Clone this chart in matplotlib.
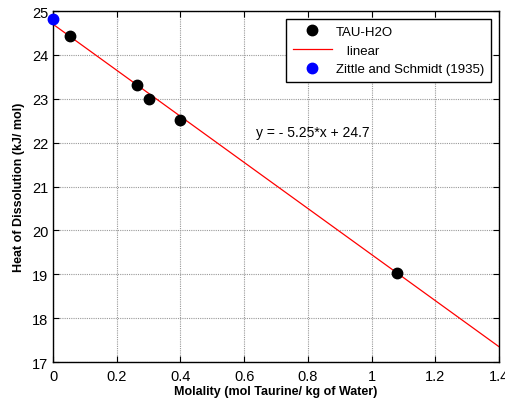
import matplotlib
matplotlib.use("Agg")
import matplotlib.pyplot as plt
import numpy as np

plt.rcParams['font.family'] = ['Liberation Sans', 'DejaVu Sans']

# data
molality = [0.053, 0.263, 0.302, 0.399, 1.079]
heat = [24.43, 23.31, 23.0, 22.51, 19.03]
lit_x = [0.0]
lit_y = [24.81]
slope = -5.25
intercept = 24.7
fit_x = [0.0, 1.4]

fig = plt.figure(figsize=(5.05, 4.02), dpi=100)
ax = fig.add_axes([0.105, 0.097, 0.883, 0.873])

fx = np.array(fit_x)
ax.plot(molality, heat, 'o', color='black', markersize=7.5, label='TAU-H2O', zorder=3)
ax.plot(fx, slope*fx + intercept, '-', color='red', linewidth=0.9, label='   linear', zorder=2)
ax.plot(lit_x, lit_y, 'o', color='blue', markersize=7.5, label='Zittle and Schmidt (1935)',
        zorder=4, clip_on=False)

ax.text(0.637, 22.16, 'y = - 5.25*x + 24.7', fontsize=10, va='baseline')

ax.set_xlim(0, 1.4)
ax.set_ylim(17, 25)
ax.set_xticks(np.arange(0, 1.41, 0.2))
ax.set_xticklabels(['0', '0.2', '0.4', '0.6', '0.8', '1', '1.2', '1.4'])
ax.set_yticks(range(17, 26))
ax.tick_params(direction='in', top=True, right=True, labelsize=10.5, length=4)
ax.tick_params(axis='x', pad=5)
ax.grid(True, color='#999999', linestyle=(0, (1, 1)), linewidth=0.8)
for s in ax.spines.values():
    s.set_linewidth(1.0)

ax.set_xlabel('Molality (mol Taurine/ kg of Water)', fontsize=9, fontweight='bold', labelpad=1.5)
ax.set_ylabel('Heat of Dissolution (kJ/ mol)', fontsize=9, fontweight='bold', labelpad=5)

leg = ax.legend(loc='upper right', fontsize=9.5, fancybox=False, framealpha=1,
                edgecolor='black', borderpad=0.5, handlelength=3.0, handletextpad=0.3,
                labelspacing=0.5, borderaxespad=0.6)
leg.get_frame().set_linewidth(1.0)

fig.savefig('out.png', dpi=100)
